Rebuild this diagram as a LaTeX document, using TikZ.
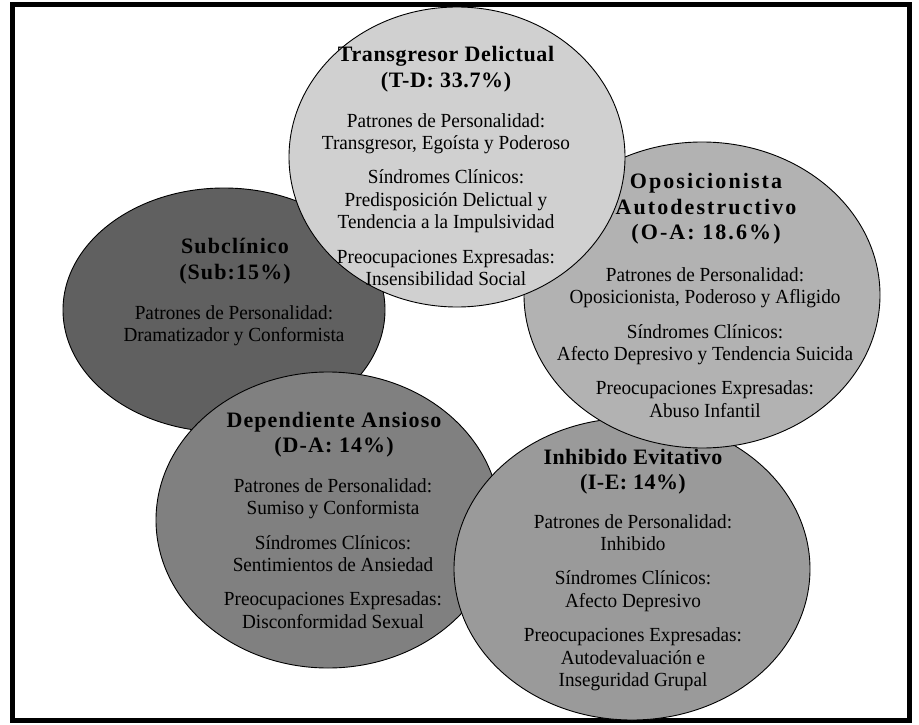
\documentclass[tikz,border=0pt]{standalone}
\usepackage{fontspec}
\setmainfont{Liberation Serif}
\newfontfamily\bodyf{Liberation Serif}[FakeStretch=0.96]
\newfontfamily\ttlTD{Liberation Serif}[LetterSpace=3]
\newfontfamily\ttlSub{Liberation Serif}[LetterSpace=5]
\newfontfamily\ttlOA{Liberation Serif}[LetterSpace=9.5]
\newfontfamily\ttlDA{Liberation Serif}[LetterSpace=5]
\newfontfamily\ttlIE{Liberation Serif}[LetterSpace=2]
\definecolor{cTD}{HTML}{D0D0D0}
\definecolor{cSub}{HTML}{606060}
\definecolor{cDA}{HTML}{808080}
\definecolor{cIE}{HTML}{9A9A9A}
\definecolor{cOA}{HTML}{B2B2B2}
\usetikzlibrary{shapes.geometric}
\tikzset{
  blob/.style={ellipse, draw=black, line width=0.9pt, inner sep=0pt},
  ttl/.style={align=center, inner sep=0pt},
  body/.style={align=center, font=\fontsize{20}{22.4}\bodyf, inner sep=0pt}
}
\begin{document}
\begin{tikzpicture}[x=1pt,y=-1pt]
\useasboundingbox (0,0) rectangle (919,725);
\draw[line width=5pt] (12.5,4.5) rectangle (909,720.5);
% ellipses, back to front
\node[blob, fill=cSub, minimum width=322pt, minimum height=244pt] (sub) at (224,310) {};
\node[blob, fill=cDA, minimum width=344pt, minimum height=296pt] (da) at (328,520) {};
\node[blob, fill=cIE, minimum width=356pt, minimum height=302pt] (ie) at (632,569) {};
\node[blob, fill=cOA, minimum width=356pt, minimum height=306pt] (oa) at (702,295) {};
\node[blob, fill=cTD, minimum width=336pt, minimum height=300pt] (td) at (457,157) {};
% T-D
\node[ttl, font=\fontsize{22}{26}\ttlTD\bfseries] (tdt) at (446,69) {Transgresor Delictual\\(T-D: 33.7\%)};
\node[body] (tdb) at (446,199.5) {Patrones de Personalidad:\\Transgresor, Egoísta y Poderoso\\[12pt]Síndromes Clínicos:\\Predisposición Delictual y\\Tendencia a la Impulsividad\\[12pt]Preocupaciones Expresadas:\\Insensibilidad Social};
% Sub
\node[ttl, font=\fontsize{22}{25.5}\ttlSub\bfseries] (subt) at (235,261) {Subclínico\\(Sub:15\%)};
\node[body] (subb) at (234,326) {Patrones de Personalidad:\\Dramatizador y Conformista};
% O-A
\node[ttl, font=\fontsize{22}{25.5}\ttlOA\bfseries] (oat) at (706,209) {Oposicionista\\Autodestructivo\\(O-A: 18.6\%)};
\node[body] (oab) at (705,342.5) {Patrones de Personalidad:\\Oposicionista, Poderoso y Afligido\\[12pt]Síndromes Clínicos:\\Afecto Depresivo y Tendencia Suicida\\[12pt]Preocupaciones Expresadas:\\Abuso Infantil};
% D-A
\node[ttl, font=\fontsize{22}{25.5}\ttlDA\bfseries] (dat) at (334,434.5) {Dependiente Ansioso\\(D-A: 14\%)};
\node[body] (dab) at (333,553.5) {Patrones de Personalidad:\\Sumiso y Conformista\\[12pt]Síndromes Clínicos:\\Sentimientos de Ansiedad\\[12pt]Preocupaciones Expresadas:\\Disconformidad Sexual};
% I-E
\node[ttl, font=\fontsize{22}{25.5}\ttlIE\bfseries] (iet) at (633,471.5) {Inhibido Evitativo\\(I-E: 14\%)};
\node[body] (ieb) at (633,602.5) {Patrones de Personalidad:\\Inhibido\\[12pt]Síndromes Clínicos:\\Afecto Depresivo\\[12pt]Preocupaciones Expresadas:\\Autodevaluación e\\Inseguridad Grupal};
\end{tikzpicture}
\end{document}
